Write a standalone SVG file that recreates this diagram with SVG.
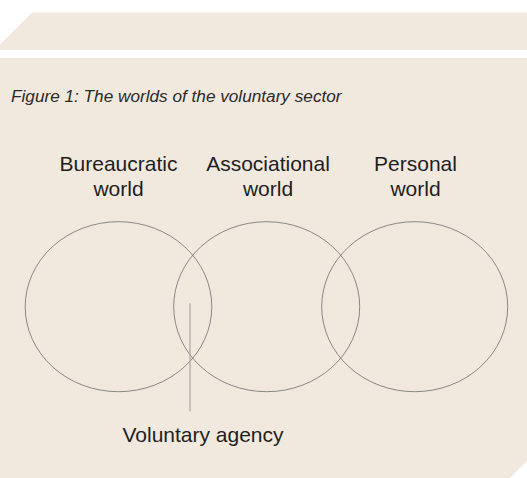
<svg xmlns="http://www.w3.org/2000/svg" width="527" height="478" viewBox="0 0 527 478">
<style>
.bg{fill:#F1E9DE}
.lbl{font-family:"Liberation Sans",Arial,sans-serif;font-size:21px;fill:#1e1e1e;text-anchor:middle}
.cap{font-family:"Liberation Sans",Arial,sans-serif;font-size:17.2px;font-style:italic;fill:#2a2a2a}
.world{fill:none;stroke:#6e6e6e;stroke-width:0.8}
.conn{stroke:#a8a8a8;stroke-width:1.2;fill:none}
</style>
<rect width="527" height="478" fill="#ffffff"/>
<polygon class="bg" points="32,12.5 527,12.5 527,50 0,50 0,44.5"/>
<polygon class="bg" points="0,58 527,58 527,461 510,478 0,478"/>
<text class="cap" x="11" y="101.5">Figure 1: The worlds of the voluntary sector</text>
<g id="bureaucratic">
<ellipse class="world" cx="118.5" cy="306.7" rx="93.3" ry="85"/>
<text class="lbl" x="118.5" y="170.7">Bureaucratic</text>
<text class="lbl" x="118.5" y="195.7">world</text>
</g>
<g id="associational">
<ellipse class="world" cx="266.7" cy="306.7" rx="93" ry="85"/>
<text class="lbl" x="268" y="170.7">Associational</text>
<text class="lbl" x="268" y="195.7">world</text>
</g>
<g id="personal">
<ellipse class="world" cx="414.7" cy="306.7" rx="93" ry="85"/>
<text class="lbl" x="415.5" y="170.7">Personal</text>
<text class="lbl" x="415.5" y="195.7">world</text>
</g>
<g id="connectors">
<line class="conn" x1="190" y1="303.3" x2="190" y2="411.5"/>
</g>
<g id="voluntary-agency">
<text class="lbl" x="203" y="442.3">Voluntary agency</text>
</g>
</svg>
